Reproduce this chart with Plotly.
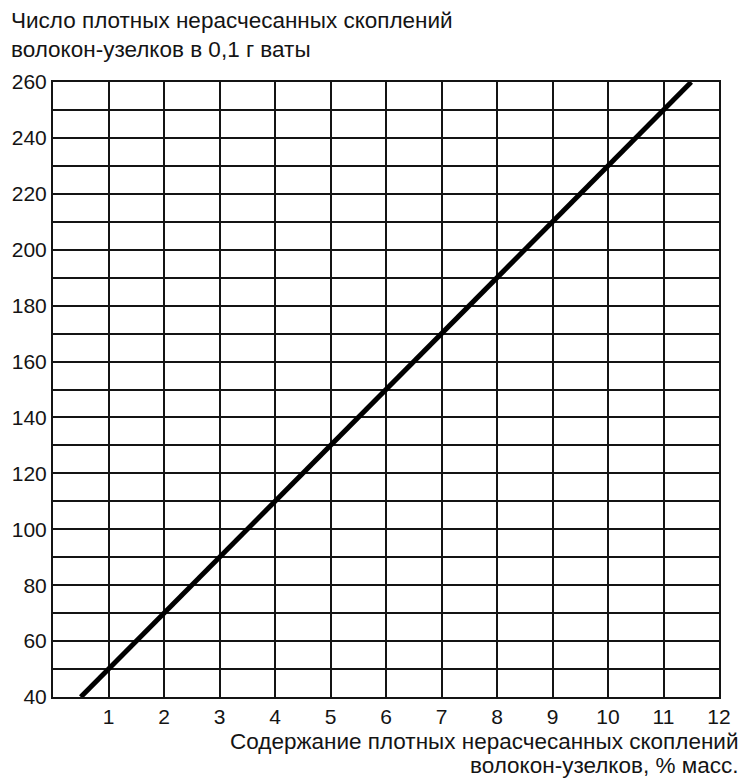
import plotly.graph_objects as go

# Data
x_vals = [0.5, 11.5]
y_vals = [40, 260]
x_ticks = [1, 2, 3, 4, 5, 6, 7, 8, 9, 10, 11, 12]
y_ticks = [40, 50, 60, 70, 80, 90, 100, 110, 120, 130, 140, 150, 160, 170, 180, 190, 200, 210, 220, 230, 240, 250, 260]
y_ticktext = [str(v) if v % 20 == 0 else "" for v in y_ticks]
y_title_lines = ["Число плотных нерасчесанных скоплений", "волокон-узелков в 0,1 г ваты"]
x_title_lines = ["Содержание плотных нерасчесанных скоплений", "волокон-узелков, % масс."]

FONT = "Liberation Sans, Arial, sans-serif"
INK = "#141414"

fig = go.Figure()
fig.add_trace(go.Scatter(x=x_vals, y=y_vals, mode="lines",
                         line=dict(color="black", width=5), showlegend=False,
                         hoverinfo="skip"))

fig.update_layout(
    width=742, height=778,
    margin=dict(l=53, r=23, t=82, b=81),
    paper_bgcolor="white", plot_bgcolor="white",
    font=dict(family=FONT, size=21, color=INK),
    xaxis=dict(range=[0, 12], tickvals=x_ticks, ticktext=[str(v) for v in x_ticks],
               showgrid=True, gridcolor=INK, gridwidth=1.5,
               showline=True, linecolor=INK, linewidth=2, mirror=True,
               ticks="", ticklen=0, zeroline=False, ticklabelstandoff=0,
               tickfont=dict(size=21)),
    yaxis=dict(range=[40, 260], tickvals=y_ticks, ticktext=y_ticktext,
               showgrid=True, gridcolor=INK, gridwidth=1.5,
               showline=True, linecolor=INK, linewidth=2, mirror=True,
               ticks="", ticklen=0, zeroline=False, ticklabelstandoff=0,
               tickfont=dict(size=21)),
)


def px_x(p):
    return (p - 53) / 666


def px_y(p):
    return (697 - p) / 615


annotations = []
for i, t in enumerate(y_title_lines):
    annotations.append(dict(text=t, xref="paper", yref="paper",
                            x=px_x(9), y=px_y(6 + 29 * i),
                            xanchor="left", yanchor="top", showarrow=False,
                            font=dict(size=22.5, family=FONT, color=INK)))
for i, t in enumerate(x_title_lines):
    annotations.append(dict(text=t, xref="paper", yref="paper",
                            x=px_x(740), y=px_y(727 + 24 * i),
                            xanchor="right", yanchor="top", showarrow=False,
                            font=dict(size=22.5, family=FONT, color=INK)))
fig.update_layout(annotations=annotations)

fig.write_html("out.html", config={"displayModeBar": False},
               post_script="document.body.style.margin='0';")
